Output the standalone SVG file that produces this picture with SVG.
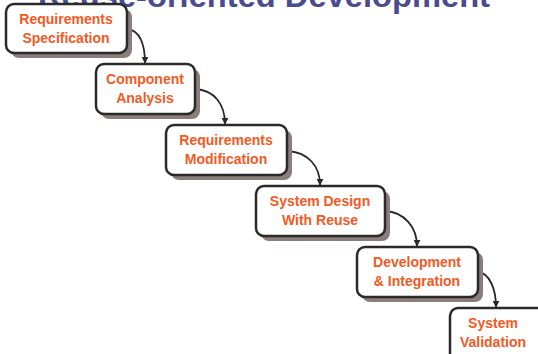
<svg xmlns="http://www.w3.org/2000/svg" width="538" height="354" viewBox="0 0 538 354">
<style>
.shadow{fill:#8a7e7b}
.box{fill:#ffffff;stroke:#2a2a2a;stroke-width:2.5}
.lbl{font-family:"Comic Sans MS","Liberation Sans",sans-serif;font-weight:bold;font-size:14px;fill:#f15a24;text-anchor:middle}
.title{font-family:"Comic Sans MS","Liberation Sans",sans-serif;font-weight:bold;font-size:32px;fill:#4b4b8f}
.conn{fill:none;stroke:#2a2a2a;stroke-width:1.8}
</style>
<defs>
<marker id="ah" viewBox="0 0 10 10" refX="9" refY="5" markerWidth="7" markerHeight="7" orient="auto" markerUnits="userSpaceOnUse">
<path d="M0,0 L10,5 L0,10 z" fill="#2a2a2a"/>
</marker>
</defs>
<rect width="538" height="354" fill="#ffffff"/>
<text class="title" x="38" y="7" textLength="452" lengthAdjust="spacingAndGlyphs">Reuse-oriented Development</text>
<g id="connectors">
<path class="conn" d="M127,29 C140,30 145,45 145,63" marker-end="url(#ah)"/>
<path class="conn" d="M195,89 C215,90 225,105 225,124" marker-end="url(#ah)"/>
<path class="conn" d="M287,151 C308,152 320,166 320,185" marker-end="url(#ah)"/>
<path class="conn" d="M385,211 C405,212 417,228 417,246" marker-end="url(#ah)"/>
<path class="conn" d="M478,272 C490,273 496,290 496,307" marker-end="url(#ah)"/>
</g>
<g id="n1">
<rect class="shadow" x="11" y="9" width="121" height="49" rx="8"/>
<rect class="box" x="6" y="4" width="121" height="49" rx="8"/>
<text class="lbl" x="66" y="24">Requirements</text>
<text class="lbl" x="66" y="43">Specification</text>
</g>
<g id="n2">
<rect class="shadow" x="101" y="69" width="99" height="50" rx="8"/>
<rect class="box" x="96" y="64" width="99" height="50" rx="8"/>
<text class="lbl" x="145" y="84">Component</text>
<text class="lbl" x="145" y="103">Analysis</text>
</g>
<g id="n3">
<rect class="shadow" x="171" y="130" width="121" height="50" rx="8"/>
<rect class="box" x="166" y="125" width="121" height="50" rx="8"/>
<text class="lbl" x="226" y="145">Requirements</text>
<text class="lbl" x="226" y="164">Modification</text>
</g>
<g id="n4">
<rect class="shadow" x="261" y="191" width="129" height="50" rx="8"/>
<rect class="box" x="256" y="186" width="129" height="50" rx="8"/>
<text class="lbl" x="320" y="206">System Design</text>
<text class="lbl" x="320" y="225">With Reuse</text>
</g>
<g id="n5">
<rect class="shadow" x="362" y="252" width="121" height="50" rx="8"/>
<rect class="box" x="357" y="247" width="121" height="50" rx="8"/>
<text class="lbl" x="417" y="267">Development</text>
<text class="lbl" x="417" y="286">&amp; Integration</text>
</g>
<g id="n6">
<rect class="shadow" x="455" y="313" width="110" height="60" rx="8"/>
<rect class="box" x="450" y="308" width="110" height="60" rx="8"/>
<text class="lbl" x="493" y="328">System</text>
<text class="lbl" x="493" y="347">Validation</text>
</g>
</svg>
